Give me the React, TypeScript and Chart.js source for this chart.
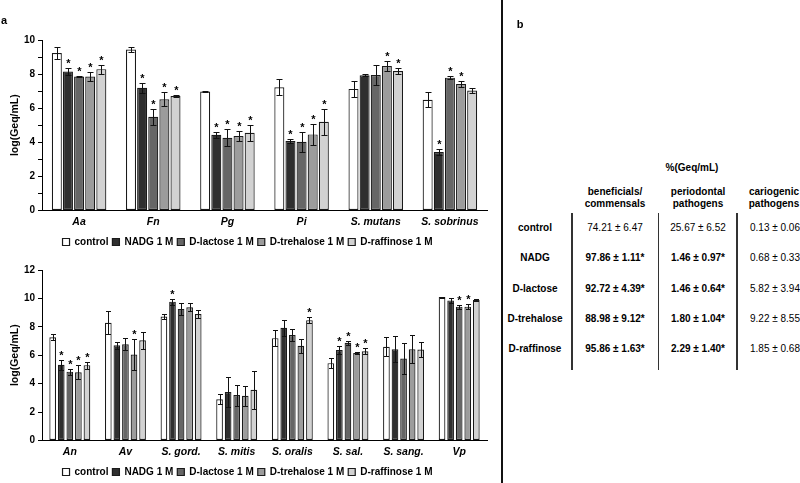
import React, { useEffect, useRef } from 'react';
import { Chart, registerables } from 'chart.js';

Chart.register(...registerables);

const FONT = 'Arial, "Liberation Sans", Helvetica, sans-serif';

// ---- series ----
const seriesLabels = ['control', 'NADG 1 M', 'D-lactose 1 M', 'D-trehalose 1 M', 'D-raffinose 1 M'];
const seriesColors = ['#ffffff', '#2f2f2f', '#666666', '#9c9c9c', '#d2d2d2'];

// ---- top chart ----
const topCategories = ['Aa', 'Fn', 'Pg', 'Pi', 'S. mutans', 'S. sobrinus'];
const topControl = [9.24, 9.44, 6.98, 7.23, 7.13, 6.49];
const topControlErr = [0.33, 0.13, 0.02, 0.48, 0.45, 0.45];
const topNADG = [8.15, 7.2, 4.44, 4.07, 7.93, 3.43];
const topNADGErr = [0.2, 0.29, 0.18, 0.12, 0.05, 0.2];
const topLactose = [7.86, 5.49, 4.26, 4.03, 7.95, 7.79];
const topLactoseErr = [0.03, 0.47, 0.49, 0.6, 0.6, 0.1];
const topTrehalose = [7.86, 6.52, 4.36, 4.46, 8.47, 7.42];
const topTrehaloseErr = [0.27, 0.41, 0.3, 0.6, 0.27, 0.2];
const topRaffinose = [8.29, 6.71, 4.55, 5.2, 8.18, 7.03];
const topRaffinoseErr = [0.27, 0.05, 0.49, 0.78, 0.15, 0.15];
const topSigControl = [false, false, false, false, false, false];
const topSigNADG = [true, true, true, true, false, true];
const topSigLactose = [true, true, true, true, false, true];
const topSigTrehalose = [true, true, true, true, true, true];
const topSigRaffinose = [true, true, true, true, true, false];

// ---- bottom chart ----
const botCategories = ['An', 'Av', 'S. gord.', 'S. mitis', 'S. oralis', 'S. sal.', 'S. sang.', 'Vp'];
const botControl = [7.26, 8.28, 8.72, 2.9, 7.2, 5.44, 6.6, 10.09];
const botControlErr = [0.2, 0.81, 0.2, 0.35, 0.55, 0.35, 0.65, 0.03];
const botNADG = [5.33, 6.7, 9.77, 3.4, 7.93, 6.37, 6.42, 9.86];
const botNADGErr = [0.35, 0.25, 0.2, 1.05, 0.55, 0.3, 0.9, 0.2];
const botLactose = [4.84, 6.77, 9.26, 3.19, 7.42, 6.88, 5.77, 9.42];
const botLactoseErr = [0.2, 0.42, 0.42, 0.74, 0.45, 0.15, 1.1, 0.15];
const botTrehalose = [4.8, 6.05, 9.37, 3.14, 6.67, 6.16, 6.42, 9.42];
const botTrehaloseErr = [0.5, 1.1, 0.28, 0.72, 0.5, 0.05, 1.0, 0.2];
const botRaffinose = [5.3, 7.05, 8.9, 3.56, 8.47, 6.28, 6.4, 9.89];
const botRaffinoseErr = [0.25, 0.58, 0.3, 1.35, 0.2, 0.2, 0.5, 0.05];
const botSigControl = [false, false, false, false, false, false, false, false];
const botSigNADG = [true, false, true, false, false, true, false, false];
const botSigLactose = [true, false, false, false, false, true, false, true];
const botSigTrehalose = [true, true, false, false, false, true, false, true];
const botSigRaffinose = [true, false, false, false, true, true, false, false];

// ---- table (panel b) ----
const tableTitle = '%(Geq/mL)';
const tableHeaders = [['beneficials/', 'commensals'], ['periodontal', 'pathogens'], ['cariogenic', 'pathogens']];
const tableRows = ['control', 'NADG', 'D-lactose', 'D-trehalose', 'D-raffinose'];
const colBeneficial = ['74.21 ± 6.47', '97.86 ± 1.11*', '92.72 ± 4.39*', '88.98 ± 9.12*', '95.86 ± 1.63*'];
const colPeriodontal = ['25.67 ± 6.52', '1.46 ± 0.97*', '1.46 ± 0.64*', '1.80 ± 1.04*', '2.29 ± 1.40*'];
const colCariogenic = ['0.13 ± 0.06', '0.68 ± 0.33', '5.82 ± 3.94', '9.22 ± 8.55', '1.85 ± 0.68'];
const boldBeneficial = [false, true, true, true, true];
const boldPeriodontal = [false, true, true, true, true];
const boldCariogenic = [false, false, false, false, false];

const errorBarPlugin = {
  id: 'errorBars',
  afterDatasetsDraw(chart: any, _args: any, opts: any) {
    const { ctx } = chart;
    const y = chart.scales.y;
    ctx.save();
    ctx.strokeStyle = '#111';
    ctx.fillStyle = '#000';
    ctx.lineWidth = 1;
    ctx.font = `bold 11px ${FONT}`;
    ctx.textAlign = 'center';
    ctx.textBaseline = 'alphabetic';
    chart.data.datasets.forEach((ds: any, di: number) => {
      const meta = chart.getDatasetMeta(di);
      if (meta.hidden) return;
      const errs = opts.errors[di];
      const sig = opts.sig[di];
      meta.data.forEach((bar: any, i: number) => {
        const v = ds.data[i];
        const e = errs[i];
        const x = Math.round(bar.x) + 0.5;
        const yt = Math.round(y.getPixelForValue(v + e)) + 0.5;
        const yb = Math.round(y.getPixelForValue(v - e)) + 0.5;
        const c = opts.cap;
        ctx.beginPath();
        ctx.moveTo(x, yt);
        ctx.lineTo(x, yb);
        ctx.moveTo(x - c, yt);
        ctx.lineTo(x + c, yt);
        ctx.moveTo(x - c, yb);
        ctx.lineTo(x + c, yb);
        ctx.stroke();
        if (sig[i]) ctx.fillText('*', x, yt - 1.5);
      });
    });
    ctx.restore();
  },
};

type BarProps = {
  categories: string[];
  values: number[][];
  errors: number[][];
  sig: boolean[][];
  max: number;
  cap: number;
  barPct: number;
  catPct: number;
};

function BarChart({ categories, values, errors, sig, max, cap, barPct, catPct }: BarProps) {
  const ref = useRef<HTMLCanvasElement>(null);
  useEffect(() => {
    if (!ref.current) return;
    const chart = new Chart(ref.current, {
      type: 'bar',
      data: {
        labels: categories,
        datasets: values.map((vals, i) => ({
          label: seriesLabels[i],
          data: vals,
          backgroundColor: seriesColors[i],
          borderColor: '#1a1a1a',
          borderWidth: 1.2,
          borderSkipped: false,
          barPercentage: barPct,
          categoryPercentage: catPct,
        })),
      },
      options: {
        responsive: false,
        animation: false,
        events: [],
        layout: { padding: { top: 40, right: 10, bottom: 2, left: 8 } },
        plugins: {
          legend: {
            position: 'bottom',
            labels: {
              boxWidth: 7,
              boxHeight: 7,
              padding: 4,
              color: '#000',
              font: { family: FONT, size: 10, weight: 'bold' },
            },
          },
          tooltip: { enabled: false },
          errorBars: { errors, sig, cap },
        } as any,
        scales: {
          x: {
            grid: { display: true, drawOnChartArea: false, drawTicks: false },
            border: { display: true, color: '#000', width: 1 },
            ticks: {
              padding: 5,
              color: '#000',
              maxRotation: 0,
              autoSkip: false,
              font: { family: FONT, size: 10.5, style: 'italic', weight: 'bold' },
            },
          },
          y: {
            min: 0,
            max,
            ticks: {
              stepSize: 1,
              padding: 3,
              color: '#000',
              font: { family: FONT, size: 10, weight: 'bold' },
              callback: (v: any) => (Number(v) % 2 === 0 ? String(v) : ''),
            },
            grid: { drawOnChartArea: false, drawTicks: true, tickLength: 4, color: '#000' },
            border: { display: true, color: '#000', width: 1 },
            title: {
              display: true,
              text: 'log(Geq/mL)',
              color: '#000',
              font: { family: FONT, size: 10.5, weight: 'bold' },
              padding: { top: 1, bottom: 0 },
            },
            afterFit: (s: any) => {
              s.width = 34;
            },
          },
        },
      },
      plugins: [errorBarPlugin],
    } as any);
    return () => chart.destroy();
  }, []);
  return <canvas ref={ref} width={497} height={259} style={{ display: 'block', width: 497, height: 259 }} />;
}

const txt = (x: number, y: number, s: string, bold: boolean, size = 10, extra: any = {}) => (
  <div
    key={`${x}-${y}-${s}`}
    style={{
      position: 'absolute',
      left: x,
      top: y,
      transform: 'translate(-50%, -50%)',
      whiteSpace: 'nowrap',
      fontFamily: FONT,
      fontSize: size,
      fontWeight: bold ? 'bold' : 'normal',
      color: '#000',
      lineHeight: 1.2,
      textAlign: 'center',
      ...extra,
    }}
  >
    {s}
  </div>
);

export default function App() {
  const rowY = [227.5, 258, 288.5, 319, 348.5];
  const colX = [615, 698, 775];
  const cols = [colBeneficial, colPeriodontal, colCariogenic];
  const bolds = [boldBeneficial, boldPeriodontal, boldCariogenic];
  return (
    <div
      style={{
        position: 'absolute',
        left: 0,
        top: 0,
        width: 800,
        height: 483,
        background: '#fff',
        overflow: 'hidden',
      }}
    >
      <div style={{ position: 'absolute', left: 0, top: 0 }}>
        <BarChart
          categories={topCategories}
          values={[topControl, topNADG, topLactose, topTrehalose, topRaffinose]}
          errors={[topControlErr, topNADGErr, topLactoseErr, topTrehaloseErr, topRaffinoseErr]}
          sig={[topSigControl, topSigNADG, topSigLactose, topSigTrehalose, topSigRaffinose]}
          max={10}
          cap={3}
          barPct={0.9}
          catPct={0.75}
        />
      </div>
      <div style={{ position: 'absolute', left: 0, top: 230 }}>
        <BarChart
          categories={botCategories}
          values={[botControl, botNADG, botLactose, botTrehalose, botRaffinose]}
          errors={[botControlErr, botNADGErr, botLactoseErr, botTrehaloseErr, botRaffinoseErr]}
          sig={[botSigControl, botSigNADG, botSigLactose, botSigTrehalose, botSigRaffinose]}
          max={12}
          cap={2.5}
          barPct={0.78}
          catPct={0.77}
        />
      </div>
      {txt(4, 21, 'a', true, 11)}
      {txt(520, 25, 'b', true, 11)}
      <div style={{ position: 'absolute', left: 501, top: 0, width: 2, height: 483, background: '#111' }} />
      {txt(692, 168, tableTitle, true, 10)}
      {tableHeaders.map((h, i) => (
        <React.Fragment key={i}>
          {txt(colX[i] - (i === 2 ? 1 : 0), 192, h[0], true, 10)}
          {txt(colX[i] - (i === 2 ? 1 : 0), 204, h[1], true, 10)}
        </React.Fragment>
      ))}
      {[572, 658.5, 737].map((x) => (
        <div key={x} style={{ position: 'absolute', left: x - 0.75, top: 213, width: 1.5, height: 157, background: '#333' }} />
      ))}
      {tableRows.map((r, ri) => (
        <React.Fragment key={r}>
          {txt(535, rowY[ri], r, true, 10)}
          {cols.map((c, ci) => txt(colX[ci], rowY[ri], c[ri], bolds[ci][ri], 10))}
        </React.Fragment>
      ))}
    </div>
  );
}
